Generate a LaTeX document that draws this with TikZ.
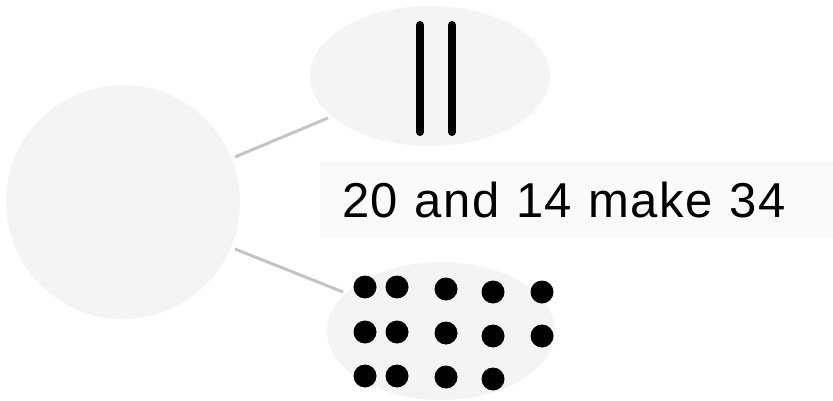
\documentclass[tikz,border=0pt]{standalone}
\usepackage{fontspec}
\setmainfont{Liberation Sans}
\newfontfamily\sumfont[WordSpace=1.1,LetterSpace=3]{Liberation Sans}
\usetikzlibrary{shapes.geometric}
\definecolor{blobfill}{HTML}{F4F4F4}
\definecolor{boxfill}{HTML}{FAFAFA}
\definecolor{linkgray}{HTML}{C4C4C4}
\tikzset{
  blob/.style={ellipse, fill=blobfill, draw=none, inner sep=0pt},
  link/.style={draw=linkgray, line width=3pt},
  bar/.style={line width=8pt, line cap=round},
  dot/.style={circle, fill=black, minimum size=23pt, inner sep=0pt},
}
\begin{document}
\begin{tikzpicture}[x=1pt,y=-1pt]
\useasboundingbox (0,0) rectangle (833,401);
\node[blob, circle, minimum size=234pt] (whole) at (123,202) {};
\node[blob, minimum width=240pt, minimum height=140pt] (tens) at (430,76) {};
\node[blob, minimum width=228pt, minimum height=138pt] (ones) at (441,331) {};
\fill[boxfill] (320,161) rectangle (833,238);
\node[anchor=west, inner sep=0pt, font=\sumfont\fontsize{49}{55}\selectfont] (sum) at (342,200) {20 and 14 make 34};
\coordinate (tA) at (328,118);
\coordinate (oA) at (343,292);
\coordinate (wA) at (235,157);
\coordinate (wB) at (235,249);
\draw[link] (wA) -- (tA);
\draw[link] (wB) -- (oA);
\coordinate (b1t) at (420,25); \coordinate (b1b) at (420,132);
\coordinate (b2t) at (452,25); \coordinate (b2b) at (452,132);
\draw[bar] (b1t) -- (b1b);
\draw[bar] (b2t) -- (b2b);
\foreach \x/\y [count=\i] in {365/287,397/287,446/289,493/292,542/292,
  365/332,397/332,446/333,493/336,542/336,
  365/376,397/376,446/377,493/379}
  \node[dot] (d\i) at (\x,\y) {};
\end{tikzpicture}
\end{document}
